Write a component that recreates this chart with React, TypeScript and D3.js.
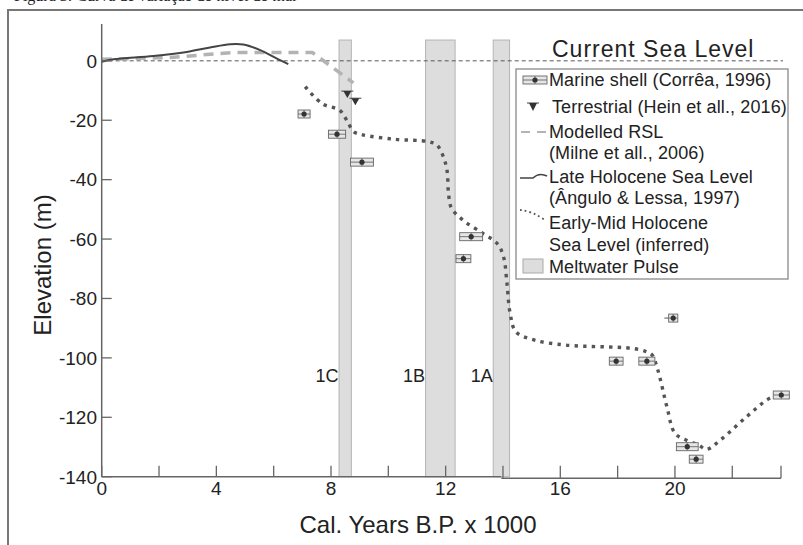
import React from 'react';
import * as d3 from 'd3';

// Meltwater pulses (kyr BP)
const pulseNames = ['1C', '1B', '1A'];
const pulseStart = [8.28, 11.3, 13.66];
const pulseEnd = [8.71, 12.33, 14.23];

// Marine shells (Corrêa, 1996): centre, half width of the box, extra whisker to the left
const shellAge = [7.06, 8.21, 9.08, 12.89, 12.62, 19.94, 17.95, 19.02, 20.43, 20.74, 23.71];
const shellElev = [-17.9, -24.7, -34.1, -59.2, -66.6, -86.6, -101.1, -101.1, -129.9, -134.1, -112.5];
const shellHalf = [0.21, 0.3, 0.4, 0.4, 0.26, 0.16, 0.24, 0.28, 0.38, 0.24, 0.28];
const shellWhisker = [0, 0, 0, 0, 0, 0.15, 0, 0, 0, 0, 0];

// Terrestrial (Hein et al., 2016)
const terrAge = [8.57, 8.85];
const terrElev = [-11.2, -13.6];

// Modelled RSL (Milne et al., 2006)
const rslAge = [0, 1.2, 2.4, 3.66, 4.6, 7.35, 8.78];
const rslElev = [0.5, 0.8, 1.1, 2.1, 2.8, 2.8, -7.4];

// Late Holocene sea level (Ângulo & Lessa, 1997)
const lateAge = [0, 0.41, 1.8, 2.97, 3.78, 4.48, 4.94, 5.53, 6.1, 6.51];
const lateElev = [-0.3, 0.5, 1.6, 3.0, 4.5, 5.6, 5.5, 3.6, 0.8, -1.1];

// Early-Mid Holocene sea level (inferred)
const earlyAge = [7.1, 7.7, 8.3, 8.55, 8.8, 9.1, 10.2, 11.4, 11.7, 11.92, 12.05, 12.1, 12.2, 12.6, 13.3, 13.8, 14.02, 14.14, 14.25, 14.45, 15.1, 16.2, 18.5, 19.0, 19.2, 19.4, 19.72, 20.0, 20.4, 20.82, 21.1, 21.58, 22.5, 23.2, 23.55];
const earlyElev = [-8.7, -14.5, -16.6, -20, -23.9, -24.9, -26.4, -27.2, -28.4, -32.3, -37, -44.6, -49.5, -53.6, -58.1, -61.5, -66, -75, -85, -91.2, -94, -95.7, -96.8, -97.9, -99, -104, -116.5, -125.4, -127.7, -129.3, -130.8, -127.7, -119.8, -114.2, -112.5];

const xTicks = [0, 2, 4, 6, 8, 10, 12, 14, 16, 18, 20, 22, 23.7];
const xTickLabels = [0, 4, 8, 12, 16, 20];
const yTicks = [0, -20, -40, -60, -80, -100, -120, -140];

const legendLabels = [
  'Marine shell (Corrêa, 1996)',
  'Terrestrial (Hein et all., 2016)',
  'Modelled RSL',
  '(Milne et all., 2006)',
  'Late Holocene Sea Level',
  '(Ângulo & Lessa, 1997)',
  'Early-Mid Holocene',
  'Sea Level (inferred)',
  'Meltwater Pulse',
];

const font = 'Liberation Sans, Arial, Helvetica, sans-serif';

export default function App() {
  const x = d3.scaleLinear().domain([0, 23.7]).range([101.7, 781]);
  const y = d3.scaleLinear().domain([-140, 12.4]).range([476.7, 24]);
  const pulseTop = y(7);

  const zip = (a: number[], b: number[]) => a.map((v, i) => [v, b[i]] as [number, number]);
  const lineLin = d3.line<[number, number]>().x(d => x(d[0])).y(d => y(d[1]));
  const lineSmooth = d3
    .line<[number, number]>()
    .x(d => x(d[0]))
    .y(d => y(d[1]))
    .curve(d3.curveCatmullRom.alpha(0.5));

  const legendY = [80, 107, 132, 153, 177, 198, 223, 245, 267];
  const axisY = y(-140);

  return (
    <svg
      width={803}
      height={545}
      style={{ position: 'absolute', left: 0, top: 0, background: '#fff' }}
      fontFamily={font}
    >
      {/* caption, cut off at the top of the crop as in the source */}
      <text x={14} y={1} fontFamily="Liberation Serif, Times New Roman, serif" fontSize={16} fill="#222">
        Figura 3: Curva de variação do nível do mar
      </text>
      {/* frame */}
      <path d="M8,545 L8,10 L803,10" fill="none" stroke="#777" strokeWidth={2} />

      {/* meltwater pulses */}
      {pulseNames.map((n, i) => (
        <g key={n}>
          <rect
            x={x(pulseStart[i])}
            y={pulseTop}
            width={x(pulseEnd[i]) - x(pulseStart[i])}
            height={axisY - pulseTop}
            fill="#dddddd"
            stroke="#b4b4b4"
            strokeWidth={1}
          />
          <text
            x={x(pulseStart[i]) - 0.5}
            y={y(-105.8)}
            dy="0.36em"
            textAnchor="end"
            fontSize={18}
            fill="#222"
          >
            {n}
          </text>
        </g>
      ))}

      {/* current sea level */}
      <line x1={x(0)} x2={783} y1={y(0)} y2={y(0)} stroke="#555" strokeWidth={1} strokeDasharray="4 3" />

      {/* modelled RSL */}
      <path d={lineLin(zip(rslAge, rslElev)) || ''} fill="none" stroke="#b3b3b3" strokeWidth={3.5} strokeDasharray="10 7" />
      {/* late holocene */}
      <path d={lineSmooth(zip(lateAge, lateElev)) || ''} fill="none" stroke="#444" strokeWidth={2} />
      {/* early-mid holocene */}
      <path
        d={lineSmooth(zip(earlyAge, earlyElev)) || ''}
        fill="none"
        stroke="#555"
        strokeWidth={3.4}
        strokeDasharray="3.4 5.2"
      />

      {/* axes */}
      <line x1={x(0)} x2={x(0)} y1={24} y2={axisY} stroke="#666" strokeWidth={1.5} />
      <line x1={x(0)} x2={x(13.94)} y1={axisY} y2={axisY} stroke="#666" strokeWidth={1.5} />
      <line x1={x(13.94)} x2={x(23.7)} y1={axisY + 1.5} y2={axisY + 1.5} stroke="#666" strokeWidth={1.5} />
      {xTicks.map(t => (
        <line
          key={'xt' + t}
          x1={x(t)}
          x2={x(t)}
          y1={axisY - 11}
          y2={t >= 13.94 ? axisY + 1.5 : axisY}
          stroke="#666"
          strokeWidth={1.3}
        />
      ))}
      {xTickLabels.map(t => (
        <text key={'xl' + t} x={x(t)} y={495} textAnchor="middle" fontSize={19} fill="#222">
          {t}
        </text>
      ))}
      {yTicks.map(t => (
        <g key={'yt' + t}>
          <line x1={x(0)} x2={x(0) + 10} y1={y(t)} y2={y(t)} stroke="#666" strokeWidth={1.3} />
          <text x={97} y={y(t)} dy="0.36em" textAnchor="end" fontSize={19} fill="#222">
            {t}
          </text>
        </g>
      ))}
      <text x={418} y={533} textAnchor="middle" fontSize={24} fill="#222">
        Cal. Years B.P. x 1000
      </text>
      <text transform="translate(51,265) rotate(-90)" textAnchor="middle" fontSize={24} fill="#222">
        Elevation (m)
      </text>

      {/* terrestrial markers */}
      {terrAge.map((a, i) => {
        const cx = x(a);
        const cy = y(terrElev[i]);
        return (
          <g key={'t' + i}>
            <line x1={cx - 6} x2={cx + 6} y1={cy - 3} y2={cy - 3} stroke="#444" strokeWidth={1} />
            <path d={`M${cx - 4},${cy - 3}L${cx + 4},${cy - 3}L${cx},${cy + 4}Z`} fill="#333" />
          </g>
        );
      })}

      {/* marine shell markers */}
      {shellAge.map((a, i) => {
        const cx = x(a);
        const cy = y(shellElev[i]);
        const x0 = x(a - shellHalf[i]);
        const x1 = x(a + shellHalf[i]);
        return (
          <g key={'s' + i}>
            {shellWhisker[i] > 0 && (
              <line x1={x(a - shellHalf[i] - shellWhisker[i])} x2={x0} y1={cy} y2={cy} stroke="#555" strokeWidth={1} />
            )}
            <rect x={x0} y={cy - 4} width={x1 - x0} height={8} fill="#e6e6e6" stroke="#666" strokeWidth={0.9} />
            <line x1={x0} x2={x1} y1={cy} y2={cy} stroke="#666" strokeWidth={0.9} />
            <line x1={cx} x2={cx} y1={cy - 4} y2={cy + 4} stroke="#666" strokeWidth={0.9} />
            <circle cx={cx} cy={cy} r={2.6} fill="#333" />
          </g>
        );
      })}

      {/* legend */}
      <text x={552} y={57} fontSize={23} letterSpacing={1} fill="#222">
        Current Sea Level
      </text>
      <rect x={516} y={69} width={272} height={210} fill="#fff" stroke="#999" strokeWidth={1.5} />
      <g>
        <rect x={523} y={legendY[0] - 4} width={24} height={8} fill="#e6e6e6" stroke="#666" strokeWidth={0.9} />
        <line x1={523} x2={547} y1={legendY[0]} y2={legendY[0]} stroke="#666" strokeWidth={0.9} />
        <line x1={535} x2={535} y1={legendY[0] - 4} y2={legendY[0] + 4} stroke="#666" strokeWidth={0.9} />
        <circle cx={535} cy={legendY[0]} r={2.6} fill="#333" />

        <line x1={527} x2={539} y1={legendY[1] - 4} y2={legendY[1] - 4} stroke="#444" strokeWidth={1} />
        <path d={`M529,${legendY[1] - 4}L537,${legendY[1] - 4}L533,${legendY[1] + 4}Z`} fill="#333" />

        <line x1={521} x2={548} y1={legendY[2]} y2={legendY[2]} stroke="#b3b3b3" strokeWidth={2} strokeDasharray="9 7" />

        <path
          d={`M520,${legendY[4] + 1}L533,${legendY[4] + 1}Q539,${legendY[4] - 5} 547,${legendY[4] - 1}`}
          fill="none"
          stroke="#444"
          strokeWidth={1.5}
        />

        <path
          d={`M520,${legendY[6] - 13}Q532,${legendY[6] - 12} 545,${legendY[6] - 3}`}
          fill="none"
          stroke="#555"
          strokeWidth={1.8}
          strokeDasharray="1.8 3"
        />

        <rect x={523} y={legendY[8] - 8} width={20} height={14} fill="#dddddd" stroke="#aaa" strokeWidth={1} />
      </g>
      {legendLabels.map((l, i) => (
        <text
          key={l}
          x={i === 1 ? 552 : 549}
          y={legendY[i]}
          dy="0.36em"
          fontSize={18}
          letterSpacing={0.12}
          fill="#222"
        >
          {l}
        </text>
      ))}
    </svg>
  );
}
